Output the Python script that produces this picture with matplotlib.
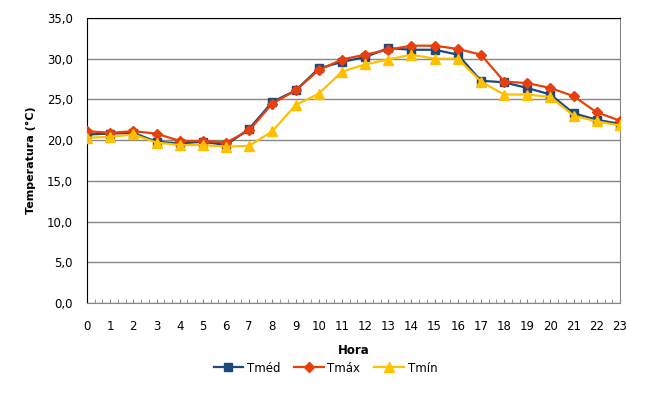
import matplotlib

matplotlib.use("Agg")
import matplotlib.pyplot as plt
from matplotlib.ticker import FuncFormatter, MultipleLocator

horas = list(range(24))
t_med = [20.7, 20.8, 20.9, 19.8, 19.6, 19.8, 19.4, 21.4, 24.7, 26.1, 28.8, 29.6,
         30.2, 31.3, 31.1, 31.1, 30.5, 27.3, 27.1, 26.4, 25.6, 23.3, 22.5, 22.0]
t_max = [21.1, 20.9, 21.1, 20.8, 19.9, 19.9, 19.7, 21.2, 24.5, 26.1, 28.6, 29.9,
         30.5, 31.1, 31.6, 31.6, 31.2, 30.5, 27.2, 27.0, 26.4, 25.4, 23.4, 22.4]
t_min = [20.3, 20.4, 20.7, 19.7, 19.4, 19.4, 19.2, 19.3, 21.1, 24.3, 25.7, 28.4,
         29.3, 29.9, 30.5, 30.0, 30.0, 27.2, 25.6, 25.6, 25.3, 23.0, 22.3, 21.8]

fig = plt.figure(figsize=(6.64, 4.0), dpi=100)
ax = fig.add_axes([87 / 664, 1 - 303 / 400, 533 / 664, 285 / 400])

ax.plot(horas, t_med, color="#1F497D", marker="s", markersize=6, linewidth=1.6,
        label="Tméd", zorder=3)
ax.plot(horas, t_max, color="#E8400C", marker="D", markersize=5.5, linewidth=1.6,
        label="Tmáx", zorder=4)
ax.plot(horas, t_min, color="#FFC000", marker="^", markersize=7, linewidth=1.6,
        label="Tmín", zorder=5)

ax.set_xlim(0, 23)
ax.set_ylim(0, 35)
ax.xaxis.set_major_locator(MultipleLocator(1))
ax.xaxis.set_minor_locator(MultipleLocator(1 / 3))
ax.yaxis.set_major_locator(MultipleLocator(5))
ax.yaxis.set_major_formatter(FuncFormatter(lambda v, p: f"{v:.1f}".replace(".", ",")))

ax.grid(axis="y", color="#868686", linewidth=1)
ax.set_axisbelow(True)
for side in ["right", "bottom"]:
    ax.spines[side].set_color("#868686")
for side in ["top", "left"]:
    ax.spines[side].set_color("black")

ax.tick_params(axis="x", which="both", direction="in", length=3, color="#868686",
               labelsize=8.5, pad=12)
ax.tick_params(axis="y", length=0, labelsize=8.5, pad=10)

ax.set_xlabel("Hora", fontsize=8.5, fontweight="bold", labelpad=8)
ax.set_ylabel("Temperatura (°C)", fontsize=8, fontweight="bold", labelpad=8)

fig.legend(loc="center", bbox_to_anchor=(0.49, 0.08), ncol=3, frameon=False,
           fontsize=8.5, handlelength=2.5, columnspacing=1.2, handletextpad=0.3)

fig.savefig("out.png", dpi=100)
plt.close(fig)
